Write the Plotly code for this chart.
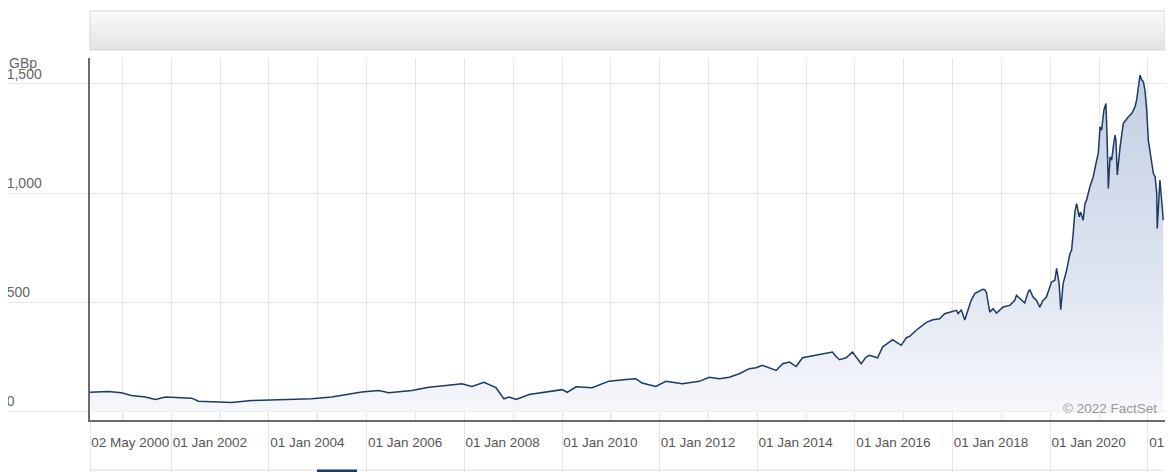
import plotly.graph_objects as go

# ---- data ----
dates = [
    "2000-05-02", "2000-09-15", "2000-12-23", "2001-03-08", "2001-06-19", "2001-09-04",
    "2001-11-18", "2002-06-01", "2002-07-23", "2003-01-11", "2003-03-27", "2003-08-24",
    "2004-03-14", "2004-11-15", "2005-04-15", "2005-11-25", "2006-04-01", "2006-06-15",
    "2006-12-05", "2007-04-11", "2007-08-17", "2007-12-14", "2008-02-27", "2008-05-27",
    "2008-08-25", "2008-10-24", "2008-12-01", "2009-01-23", "2009-04-30", "2009-09-04",
    "2010-01-02", "2010-02-09", "2010-04-16", "2010-08-14", "2010-12-19", "2011-04-23",
    "2011-07-07", "2011-08-23", "2011-12-04", "2012-02-17", "2012-06-19", "2012-10-24",
    "2013-01-07", "2013-03-23", "2013-06-06", "2013-08-19", "2013-11-02", "2013-12-23",
    "2014-02-08", "2014-05-22", "2014-07-10", "2014-08-29", "2014-10-19", "2014-12-05",
    "2015-01-26", "2015-03-18", "2015-05-31", "2015-07-17", "2015-08-13", "2015-09-08",
    "2015-10-27", "2015-12-14", "2016-02-17", "2016-03-25", "2016-04-20", "2016-06-19",
    "2016-07-26", "2016-10-09", "2016-11-06", "2016-12-13", "2017-01-20", "2017-02-14",
    "2017-04-04", "2017-06-19", "2017-08-07", "2017-09-26", "2017-11-02", "2017-12-10",
    "2018-01-30", "2018-02-11", "2018-03-07", "2018-04-02", "2018-05-20", "2018-06-16",
    "2018-07-23", "2018-08-14", "2018-08-29", "2018-09-11", "2018-10-06", "2018-10-31",
    "2018-11-25", "2018-12-20", "2019-01-14", "2019-03-05", "2019-04-11", "2019-04-24",
    "2019-05-18", "2019-06-25", "2019-07-20", "2019-08-01", "2019-08-26", "2019-09-21",
    "2019-10-15", "2019-11-09", "2019-12-04", "2020-01-11", "2020-02-05", "2020-02-18",
    "2020-03-08", "2020-03-20", "2020-04-07", "2020-05-03", "2020-05-28", "2020-06-09",
    "2020-06-21", "2020-07-04", "2020-07-17", "2020-08-05", "2020-08-15", "2020-09-04",
    "2020-09-17", "2020-09-29", "2020-10-24", "2020-11-18", "2020-12-14", "2020-12-26",
    "2021-01-08", "2021-01-20", "2021-02-06", "2021-02-21", "2021-03-03", "2021-03-11",
    "2021-03-24", "2021-04-05", "2021-04-17", "2021-04-30", "2021-05-07", "2021-05-17",
    "2021-06-07", "2021-06-19", "2021-07-01", "2021-07-21", "2021-08-08", "2021-09-02",
    "2021-09-14", "2021-09-27", "2021-10-09", "2021-11-03", "2021-11-16", "2021-11-28",
    "2021-12-10", "2021-12-23", "2022-01-04", "2022-01-17", "2022-01-30", "2022-02-11",
    "2022-02-24", "2022-03-08", "2022-03-12", "2022-04-01", "2022-04-14", "2022-04-26",
]
prices = [
    88, 91, 86, 73, 66, 55,
    66, 61, 47, 43, 41, 50,
    55, 58, 66, 89, 96, 86,
    96, 111, 119, 127, 115, 134,
    109, 58, 66, 55, 78, 89,
    100, 88, 113, 109, 139, 147,
    150, 130, 115, 138, 127, 138,
    157, 150, 157, 173, 196, 200,
    211, 188, 219, 226, 206, 246,
    252, 257, 268, 272, 252, 237,
    246, 272, 219, 249, 257, 246,
    295, 329, 318, 303, 338, 344,
    372, 408, 420, 425, 448, 453,
    463, 448, 466, 419, 509, 540,
    555, 560, 558, 545, 455, 471,
    451, 467, 479, 486, 509, 532,
    517, 497, 547, 558, 524, 509,
    478, 509, 524, 593, 601, 655,
    586, 466, 586, 647, 723, 738,
    815, 914, 952, 891, 914, 876,
    952, 968, 1029, 1075, 1151, 1182,
    1304, 1289, 1381, 1411, 1228, 1021,
    1167, 1151, 1212, 1266, 1243, 1083,
    1212, 1281, 1320, 1335, 1350, 1365,
    1381, 1396, 1427, 1541, 1518, 1511,
    1472, 1381, 1243, 1182, 1121, 1090,
    1075, 999, 838, 1060, 967, 876,
]

x_tick_vals = ["2000-05-02", "2002-01-01", "2004-01-01", "2006-01-01", "2008-01-01",
               "2010-01-01", "2012-01-01", "2014-01-01", "2016-01-01", "2018-01-01",
               "2020-01-01", "2022-01-01"]
x_tick_text = ["02 May 2000", "01 Jan 2002", "01 Jan 2004", "01 Jan 2006", "01 Jan 2008",
               "01 Jan 2010", "01 Jan 2012", "01 Jan 2014", "01 Jan 2016", "01 Jan 2018",
               "01 Jan 2020", "01 Jan 2022"]
y_tick_vals = [0, 500, 1000, 1500]

GRID = "#e6e6e6"
AXIS = "#6b6b6b"
FONT = "Liberation Sans, Arial, sans-serif"

fig = go.Figure()
fig.add_trace(go.Scatter(
    x=dates, y=prices, mode="lines",
    line=dict(color="#1e3a62", width=1.5),
    fill="tozeroy",
    fillgradient=dict(type="vertical",
                      colorscale=[[0, "#f6f7fb"], [0.4, "#dde4f0"], [1, "#c0cde2"]],
                      start=0, stop=1600),
    hoverinfo="x+y", showlegend=False,
))

# the page places the figure 8px from the top-left corner (body margin),
# so the figure is sized/offset to land where the reference has it
OFF = 8
W, H = 1173 - OFF, 472 - OFF
L, R, T, B = 90 - OFF, 8, 58 - OFF, 52
PH = H - T - B
PW = W - L - R


def py(y):  # reference-picture y (px) -> paper coordinate
    return (H - B - (y - OFF)) / PH


def px(x):  # reference-picture x (px) -> paper coordinate
    return (x - OFF - L) / PW


shapes = []
# gradient box (stacked stripes)
top, bot = 11, 50
n = 13
for i in range(n):
    y0 = top + (bot - top) * i / n
    y1 = top + (bot - top) * (i + 1) / n
    g = int(250 - (250 - 228) * i / (n - 1))
    shapes.append(dict(type="rect", xref="paper", yref="paper", x0=0, x1=1,
                       y0=py(y1), y1=py(y0), fillcolor=f"rgb({g},{g},{g})",
                       line=dict(width=0), layer="above"))
shapes.append(dict(type="rect", xref="paper", yref="paper", x0=0, x1=1,
                   y0=py(bot), y1=py(top), fillcolor="rgba(0,0,0,0)",
                   line=dict(color="#d6d6d6", width=1), layer="above"))
# bottom line below labels and small tab marker
shapes.append(dict(type="line", xref="paper", yref="paper", x0=0, x1=0.998,
                   y0=py(470), y1=py(470), line=dict(color="#dcdcdc", width=1)))
shapes.append(dict(type="rect", xref="paper", yref="paper", x0=px(317), x1=px(357),
                   y0=py(473), y1=py(469.5), fillcolor="#1e3a62", line=dict(width=0)))

fig.update_layout(
    width=W, height=H,
    margin=dict(l=L, r=R, t=T, b=B, autoexpand=False),
    paper_bgcolor="white", plot_bgcolor="white",
    font=dict(family=FONT, size=13, color="#666666"),
    shapes=shapes,
    xaxis=dict(
        type="date", range=["2000-05-02", "2022-05-09"],
        tickvals=x_tick_vals, ticktext=x_tick_text, tickangle=0,
        showgrid=True, gridcolor=GRID, gridwidth=1,
        ticks="outside", ticklen=50, tickcolor=GRID, tickwidth=1,
        ticklabelposition="outside right", ticklabelstandoff=9,
        ticklabeloverflow="allow", automargin=False,
        minor=dict(dtick="M12", tick0="2001-01-01", showgrid=True, gridcolor=GRID, ticks=""),
        showline=True, linecolor=AXIS, linewidth=1.5,
        zeroline=False, tickfont=dict(size=13.5, color="#555555"),
        fixedrange=True,
    ),
    yaxis=dict(
        range=[-39, 1619],
        tickvals=y_tick_vals, tickformat=",",
        showgrid=True, gridcolor=GRID, gridwidth=1,
        ticks="outside", ticklen=88, tickcolor=GRID, tickwidth=1,
        ticklabelposition="inside top", ticklabelstandoff=-84,
        ticklabeloverflow="allow", automargin=False,
        showline=True, linecolor=AXIS, linewidth=1.5,
        zeroline=False, tickfont=dict(size=14, color="#666666"),
        fixedrange=True,
    ),
    annotations=[
        dict(text="GBp", xref="paper", yref="paper", x=px(7), y=py(63),
             xanchor="left", yanchor="middle", showarrow=False,
             font=dict(size=14, color="#666666")),
        dict(text="© 2022 FactSet", xref="paper", yref="paper", x=px(1159),
             y=py(408), xanchor="right", yanchor="middle", showarrow=False,
             font=dict(size=13.5, color="#9a9a9a")),
    ],
)

fig.write_html("out.html")
